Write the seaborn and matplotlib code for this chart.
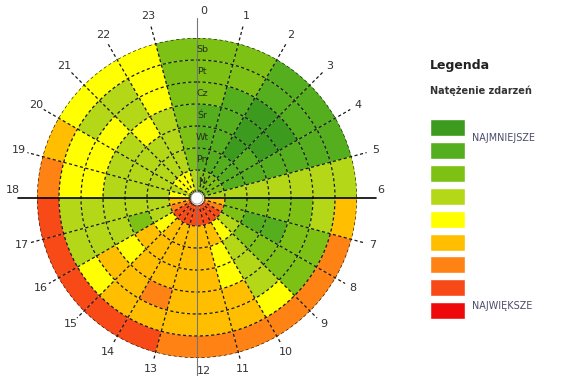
import numpy as np
import matplotlib
matplotlib.use("Agg")
import matplotlib.pyplot as plt
import seaborn as sns

sns.set_style("white")
plt.rcParams['font.family'] = ['DejaVu Sans']

# rings from the centre outwards
days = ["N", "Pn", "Wt", "Śr", "Cz", "Pt", "Sb"]
hours = list(range(24))

# intensity class per hour 0..23 (0 = najmniejsze ... 8 = największe)
lvl_n  = [2, 2, 2, 2, 2, 3, 5, 6, 7, 7, 7, 7, 7, 7, 7, 7, 6, 5, 4, 3, 4, 4, 4, 3]
lvl_pn = [1, 1, 1, 1, 1, 3, 2, 2, 3, 4, 5, 5, 5, 5, 5, 4, 3, 3, 3, 3, 3, 3, 3, 2]
lvl_wt = [1, 1, 0, 1, 1, 3, 2, 1, 2, 3, 4, 5, 5, 5, 5, 5, 2, 3, 3, 3, 3, 3, 3, 2]
lvl_sr = [1, 1, 0, 0, 1, 3, 2, 1, 2, 3, 4, 5, 5, 5, 5, 4, 3, 3, 3, 3, 3, 4, 3, 2]
lvl_cz = [2, 1, 0, 0, 1, 3, 2, 2, 2, 3, 5, 5, 5, 6, 5, 5, 3, 3, 4, 4, 4, 3, 4, 2]
lvl_pt = [2, 2, 1, 1, 1, 3, 3, 2, 2, 4, 5, 5, 5, 5, 5, 4, 3, 3, 4, 4, 3, 3, 4, 2]
lvl_sb = [2, 2, 1, 1, 1, 3, 5, 6, 6, 6, 6, 6, 6, 7, 7, 7, 7, 7, 6, 5, 4, 4, 4, 2]

levels = np.array([lvl_n, lvl_pn, lvl_wt, lvl_sr, lvl_cz, lvl_pt, lvl_sb])

legend_colors = ["#3c9a1e", "#55ae1e", "#7cc114", "#b4d718", "#ffff00",
                 "#ffbe00", "#ff8214", "#f84a16", "#ee0a0a"]
legend_title = "Legenda"
legend_sub = "Natężenie zdarzeń"
legend_low = "NAJMNIEJSZE"
legend_high = "NAJWIĘKSZE"

pal = sns.color_palette(legend_colors)

W, H = 561, 376
fig = plt.figure(figsize=(W / 100, H / 100), dpi=100)

# polar axes, radius in pixel units
R = 160
cx, cy = 197, 198
ax = fig.add_axes([(cx - R) / W, 1 - (cy + R) / H, 2 * R / W, 2 * R / H],
                  projection="polar")
ax.set_theta_zero_location("N")
ax.set_theta_direction(-1)
ax.set_ylim(0, R)
ax.grid(False)
ax.set_xticks([])
ax.set_yticks([])
ax.spines["polar"].set_visible(False)

r0 = 6
rw = (R - r0) / len(days)
step = 2 * np.pi / 24
for i in range(len(days)):
    ax.bar(np.array(hours) * step + step / 2, rw, width=step, bottom=r0 + i * rw,
           color=[pal[v] for v in levels[i]], edgecolor="none", zorder=1)

dash = (0, (2.5, 2))
tt = np.linspace(0, 2 * np.pi, 400)
for i in range(1, len(days) + 1):
    ax.plot(tt, np.full_like(tt, r0 + i * rw), color="#1a1a1a", lw=0.9,
            ls=dash, zorder=3)

# hour boundaries, leader lines and labels
for h in hours:
    th = h * step
    rl = 183 + 6 * np.cos(th)
    if h in (6, 18):
        ax.plot([th, th], [0, rl - 4], color="black", lw=1.2, zorder=4,
                clip_on=False)
        ax.text(th - np.radians(2.5 if h == 6 else -2.5), rl + 1, str(h),
                ha="center", va="center", fontsize=8, color="#333333",
                clip_on=False)
    elif h in (0, 12):
        ax.plot([th, th], [0, 180], color="#777777", lw=0.8, zorder=4,
                clip_on=False)
        ax.annotate(str(h), xy=(th, rl - (2 if h == 0 else 4)), xytext=(7, 0),
                    textcoords="offset pixels", ha="center", va="center",
                    fontsize=8, color="#333333", annotation_clip=False)
    else:
        ax.plot([th, th], [0, rl - 9], color="#1a1a1a", lw=0.9, ls=dash,
                zorder=3, clip_on=False)
        ax.text(th, rl, str(h), ha="center", va="center", fontsize=8,
                color="#333333", clip_on=False)

# white hole in the middle
ax.fill_between(tt, 0, r0, color="white", zorder=5)
ax.plot(tt, np.full_like(tt, r0), color="#999999", lw=0.6, zorder=5)

for i, d in enumerate(days):
    ax.annotate(d, xy=(0, r0 + (i + 0.5) * rw), xytext=(5, 0),
                textcoords="offset pixels", ha="center", va="center",
                fontsize=6.8, color="#26301c", zorder=6)

# legend
top, bot = 116.5, 322
lax = fig.add_axes([430 / W, 1 - bot / H, 35 / W, (bot - top) / H])
lax.barh(range(len(legend_colors)), 1, height=0.75, color=pal, left=0)
lax.set_xlim(0, 1)
lax.set_ylim(len(legend_colors) - 0.5, -0.5)
lax.axis("off")
lax.text(1.2, 0.42, legend_low, va="center", ha="left", fontsize=6.9,
         color="#4a4a6a", clip_on=False)
lax.text(1.2, 7.78, legend_high, va="center", ha="left", fontsize=6.9,
         color="#4a4a6a", clip_on=False)

fig.text(430 / W, 1 - 66 / H, legend_title, fontsize=9, fontweight="bold",
         va="center", ha="left", color="#222222")
fig.text(430 / W, 1 - 91 / H, legend_sub, fontsize=7, fontweight="bold",
         va="center", ha="left", color="#333333")

fig.savefig("out.png", dpi=100, facecolor="white")
